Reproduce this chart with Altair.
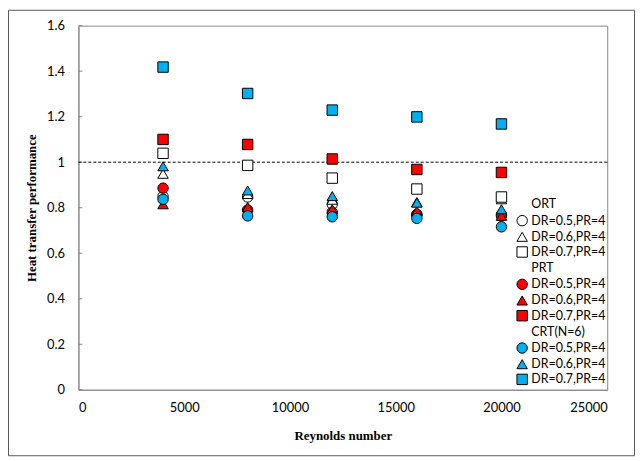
import altair as alt
import pandas as pd

# ---- data ----
reynolds = [4000, 8000, 12000, 16000, 20000]

ort_05 = [0.850, 0.847, 0.815, 0.770, 0.770]
ort_06 = [0.949, 0.860, 0.835, 0.825, 0.837]
ort_07 = [1.039, 0.986, 0.930, 0.882, 0.847]
prt_05 = [0.886, 0.790, 0.780, 0.770, 0.764]
prt_06 = [0.815, 0.803, 0.793, 0.785, 0.764]
prt_07 = [1.100, 1.078, 1.014, 0.968, 0.955]
crt_05 = [0.837, 0.764, 0.760, 0.753, 0.716]
crt_06 = [0.982, 0.876, 0.851, 0.822, 0.793]
crt_07 = [1.418, 1.302, 1.229, 1.199, 1.168]

groups = ["ORT", "PRT", "CRT(N=6)"]
cases = ["DR=0.5,PR=4", "DR=0.6,PR=4", "DR=0.7,PR=4"]
series_values = [
    [ort_05, ort_06, ort_07],
    [prt_05, prt_06, prt_07],
    [crt_05, crt_06, crt_07],
]
group_fill = ["#FFFFFF", "#FF0000", "#00B0F0"]
case_shape = ["circle", "triangle-up", "square"]

x_ticks = [0, 5000, 10000, 15000, 20000, 25000]
y_ticks = [0, 0.2, 0.4, 0.6, 0.8, 1.0, 1.2, 1.4, 1.6]
reference_line = [1.0]

# ---- build tables ----
keys, fills, strokes, shapes = [], [], [], []
rows = []
for gi, g in enumerate(groups):
    keys.append(g)
    fills.append("transparent")
    strokes.append("transparent")
    shapes.append("circle")
    for ci, c in enumerate(cases):
        k = g + "|" + c
        keys.append(k)
        fills.append(group_fill[gi])
        strokes.append("#000000")
        shapes.append(case_shape[ci])
        for re_, v in zip(reynolds, series_values[gi][ci]):
            rows.append({"Re": re_, "value": v, "key": k, "ord": gi * 3 + ci})
df = pd.DataFrame(rows)

label_expr = "indexof(datum.label, '|') >= 0 ? split(datum.label, '|')[1] : datum.label"

def leg():
    return alt.Legend(title=None, labelExpr=label_expr)

y_enc = alt.Y(
    "value:Q",
    scale=alt.Scale(domain=[0, 1.6], nice=False),
    axis=alt.Axis(values=y_ticks, format="~g", title="Heat transfer  performance",
                  ticks=False, labelPadding=14, titlePadding=8, grid=False),
)
x_enc = alt.X(
    "Re:Q",
    scale=alt.Scale(domain=[0, 25000], nice=False),
    axis=alt.Axis(values=x_ticks, format="d", title="Reynolds number",
                  ticks=False, labelPadding=12, titlePadding=15, grid=False),
)

points = alt.Chart(df).mark_point(filled=True, size=110, strokeWidth=1, opacity=1).encode(
    x=x_enc,
    y=y_enc,
    fill=alt.Fill("key:N", scale=alt.Scale(domain=keys, range=fills), legend=leg()),
    stroke=alt.Stroke("key:N", scale=alt.Scale(domain=keys, range=strokes), legend=leg()),
    shape=alt.Shape("key:N", scale=alt.Scale(domain=keys, range=shapes), legend=leg()),
    order=alt.Order("ord:Q"),
)

ref = alt.Chart(pd.DataFrame({"value": reference_line})).mark_rule(
    color="#000000", strokeWidth=1, strokeDash=[3, 2]
).encode(y=y_enc)

inner_ticks = alt.Chart(pd.DataFrame({"value": y_ticks})).mark_rule(
    color="#898989", strokeWidth=1
).encode(y=y_enc, x=alt.value(0), x2=alt.value(4))

frame = alt.Chart(alt.Data(values=[{"a": 1}])).mark_rect(
    fillOpacity=0, stroke="#595959", strokeWidth=1
).encode(x=alt.value(-70.5), x2=alt.value(560.5), y=alt.value(-15.5), y2=alt.value(433.5))

chart = alt.layer(frame, inner_ticks, ref, points).properties(
    width=533, height=367,
    autosize=alt.AutoSizeParams(type="none"),
    padding={"left": 71, "top": 16, "right": 28, "bottom": 67},
).configure_view(
    stroke="#898989", strokeWidth=1
).configure_axis(
    domainColor="#898989", labelFont="Lato", labelFontSize=13, labelColor="#000000",
    titleFont="Liberation Serif", titleFontWeight="bold", titleFontSize=13, titleColor="#000000",
).configure_legend(
    orient="none", legendX=441, legendY=174, padding=0, rowPadding=1.3,
    labelFont="Lato", labelFontSize=12.5, labelColor="#000000", labelOffset=3,
    symbolSize=110, symbolStrokeWidth=1, symbolOpacity=1,
)

chart.save("out.html", embed_options={"renderer": "svg", "actions": False})
